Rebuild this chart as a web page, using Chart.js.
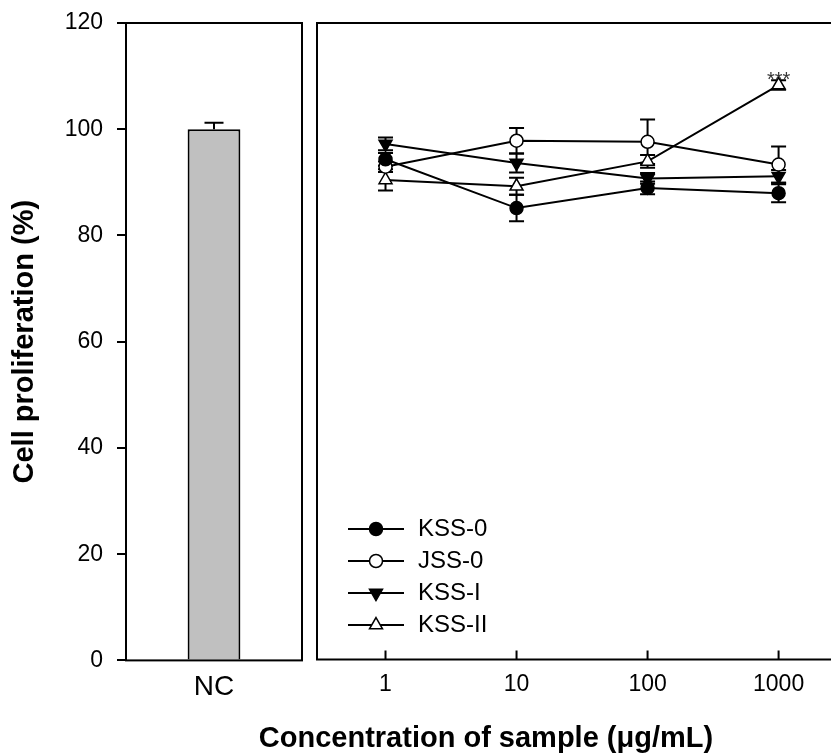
<!DOCTYPE html>
<html>
<head>
<meta charset="utf-8">
<script src="https://cdn.jsdelivr.net/npm/chart.js@4.4.0/dist/chart.umd.min.js"></script>
<style>
  body { margin: 0; background: #fff; overflow: hidden; }
  #wrap { position: relative; width: 831px; height: 753px; }
  canvas { position: absolute; top: 0; left: 0; }
</style>
</head>
<body>
<div id="wrap">
  <canvas id="lineChart" width="831" height="753"></canvas>
  <canvas id="barChart" width="310" height="753"></canvas>
</div>
<script>
const FONT = "'Liberation Sans', Arial, sans-serif";

// negative control bar
const ncLabels = ["NC"];
const ncValues = [100];
const ncErrors = [1.2];

// sample concentrations (ug/mL) and tick labels
const concentrations = [1, 10, 100, 1000];
const xTickLabels = ["1", "10", "100", "1000"];
const yTicks = [0, 20, 40, 60, 80, 100, 120];

// series values (mean, error)
const seriesNames = ["KSS-0", "JSS-0", "KSS-I", "KSS-II"];
const kss0 = [94.3, 85.1, 88.9, 87.9];
const kss0Err = [1.2, 2.5, 1.2, 1.7];
const jss0 = [92.9, 97.8, 97.6, 93.3];
const jss0Err = [1.0, 2.4, 4.2, 3.4];
const kssI = [97.2, 93.6, 90.7, 91.1];
const kssIErr = [1.2, 1.8, 1.0, 1.2];
const kssII = [90.4, 89.2, 93.9, 108.3];
const kssIIErr = [2.0, 1.6, 1.2, 0.9];
const kssIIMarks = ["", "", "", "***"];

const seriesValues = [kss0, jss0, kssI, kssII];
const seriesErrors = [kss0Err, jss0Err, kssIErr, kssIIErr];
const seriesMarks = [null, null, null, kssIIMarks];

// marker styles
const markers = [
  { pointStyle: "circle", rotation: 0, radius: 6.5, fill: "#000" },
  { pointStyle: "circle", rotation: 0, radius: 6.5, fill: "#fff" },
  { pointStyle: "triangle", rotation: 180, radius: 7.5, fill: "#000" },
  { pointStyle: "triangle", rotation: 0, radius: 7.5, fill: "#fff" },
];

function drawErrorBar(ctx, x, yMid, yLo, yHi, cap) {
  ctx.beginPath();
  ctx.moveTo(x, yLo);
  ctx.lineTo(x, yHi);
  ctx.moveTo(x - cap / 2, yHi);
  ctx.lineTo(x + cap / 2, yHi);
  if (yLo !== yMid) {
    ctx.moveTo(x - cap / 2, yLo);
    ctx.lineTo(x + cap / 2, yLo);
  }
  ctx.stroke();
}

// Left panel: NC bar
const barChart = new Chart(document.getElementById("barChart"), {
  type: "bar",
  data: {
    labels: ncLabels,
    datasets: [
      {
        data: ncValues,
        backgroundColor: "#c0c0c0",
        borderColor: "#000",
        borderWidth: 2,
        barPercentage: 0.3,
        categoryPercentage: 1,
      },
    ],
  },
  options: {
    responsive: false,
    animation: false,
    layout: { autoPadding: false, padding: { left: 0, right: 8, top: 23, bottom: 39 } },
    plugins: { legend: { display: false }, tooltip: { enabled: false } },
    scales: {
      x: {
        afterFit: (s) => { s.paddingLeft = 0; s.paddingRight = 0; },
        grid: { display: false, drawTicks: false },
        border: { display: false },
        ticks: { color: "#000", font: { family: FONT, size: 28 }, padding: 10 },
      },
      y: {
        min: 0,
        max: 120,
        afterFit: (s) => { s.width = 126; s.paddingTop = 0; s.paddingBottom = 0; },
        afterBuildTicks: (s) => { s.ticks = yTicks.map((v) => ({ value: v })); },
        grid: { drawOnChartArea: false, color: "#000", lineWidth: 2, tickLength: 9 },
        border: { display: false },
        ticks: { color: "#000", font: { family: FONT, size: 23 }, padding: 14 },
        title: {
          display: true,
          text: "Cell proliferation (%)",
          color: "#000",
          font: { family: FONT, size: 29, weight: "bold" },
          padding: { top: 8, bottom: 0 },
        },
      },
    },
  },
  plugins: [
    {
      id: "ncExtras",
      afterDatasetsDraw(chart) {
        const { ctx, scales } = chart;
        ctx.save();
        ctx.strokeStyle = "#000";
        ctx.lineWidth = 2;
        ncValues.forEach((v, i) => {
          const x = scales.x.getPixelForValue(i);
          const y = scales.y.getPixelForValue(v);
          const yHi = scales.y.getPixelForValue(v + ncErrors[i]);
          drawErrorBar(ctx, x, y, y, yHi, 19);
        });
        ctx.restore();
      },
      afterDraw(chart) {
        const a = chart.chartArea;
        const ctx = chart.ctx;
        ctx.save();
        ctx.strokeStyle = "#000";
        ctx.lineWidth = 2;
        ctx.strokeRect(a.left, a.top, a.right - a.left, a.bottom - a.top);
        ctx.restore();
      },
    },
  ],
});

// Right panel: concentration series
const lineChart = new Chart(document.getElementById("lineChart"), {
  type: "line",
  data: {
    datasets: seriesNames.map((name, i) => ({
      label: name,
      data: concentrations.map((c, j) => ({ x: c, y: seriesValues[i][j] })),
      borderColor: "#000",
      borderWidth: 2,
      tension: 0,
      pointStyle: markers[i].pointStyle,
      rotation: markers[i].rotation,
      pointRadius: markers[i].radius,
      pointBackgroundColor: markers[i].fill,
      pointBorderColor: "#000",
      pointBorderWidth: 1.5,
    })),
  },
  options: {
    responsive: false,
    animation: false,
    layout: { autoPadding: false, padding: { left: 317, right: 0, top: 23, bottom: 44 } },
    plugins: { legend: { display: false }, tooltip: { enabled: false } },
    scales: {
      x: {
        type: "logarithmic",
        min: Math.pow(10, -0.5),
        max: Math.pow(10, 3.4),
        afterBuildTicks: (s) => { s.ticks = concentrations.map((v) => ({ value: v })); },
        afterFit: (s) => { s.paddingLeft = 0; s.paddingRight = 0; },
        grid: { display: false, drawTicks: false },
        border: { display: false },
        ticks: {
          color: "#000",
          font: { family: FONT, size: 23 },
          padding: 11,
          autoSkip: false,
          maxRotation: 0,
          callback: (v, i) => xTickLabels[i],
        },
      },
      y: { display: false, min: 0, max: 120 },
    },
  },
  plugins: [
    {
      id: "seriesExtras",
      beforeDatasetsDraw(chart) {
        const { ctx, scales } = chart;
        ctx.save();
        ctx.strokeStyle = "#000";
        ctx.lineWidth = 2;
        seriesValues.forEach((vals, i) => {
          vals.forEach((v, j) => {
            const x = scales.x.getPixelForValue(concentrations[j]);
            const e = seriesErrors[i][j];
            drawErrorBar(ctx, x, scales.y.getPixelForValue(v),
              scales.y.getPixelForValue(v - e), scales.y.getPixelForValue(v + e), 15);
          });
        });
        ctx.restore();
      },
      afterDraw(chart) {
        const { ctx, scales } = chart;
        const a = chart.chartArea;
        ctx.save();
        ctx.strokeStyle = "#000";
        ctx.fillStyle = "#000";
        ctx.lineWidth = 2;

        // frame: left, top, bottom (right side runs off the page)
        ctx.beginPath();
        ctx.moveTo(a.right + 2, a.top);
        ctx.lineTo(a.left, a.top);
        ctx.lineTo(a.left, a.bottom);
        ctx.lineTo(a.right + 2, a.bottom);
        ctx.stroke();

        // inward tick marks
        ctx.beginPath();
        concentrations.forEach((c) => {
          const x = scales.x.getPixelForValue(c);
          ctx.moveTo(x, a.bottom);
          ctx.lineTo(x, a.bottom - 9);
        });
        ctx.stroke();

        // significance marks
        ctx.font = "20px " + FONT;
        ctx.fillStyle = "#333";
        ctx.textAlign = "center";
        ctx.textBaseline = "alphabetic";
        seriesMarks.forEach((marks, i) => {
          if (!marks) return;
          marks.forEach((m, j) => {
            if (!m) return;
            const x = scales.x.getPixelForValue(concentrations[j]);
            const y = scales.y.getPixelForValue(seriesValues[i][j] + seriesErrors[i][j]);
            ctx.fillText(m, x, y + 6);
          });
        });

        // legend
        ctx.fillStyle = "#000";
        ctx.font = "24px " + FONT;
        ctx.textAlign = "left";
        ctx.textBaseline = "middle";
        seriesNames.forEach((name, i) => {
          const y = 529 + i * 32;
          ctx.beginPath();
          ctx.moveTo(348, y);
          ctx.lineTo(404, y);
          ctx.stroke();
          ctx.save();
          ctx.fillStyle = markers[i].fill;
          ctx.lineWidth = 1.5;
          Chart.helpers.drawPoint(ctx, {
            pointStyle: markers[i].pointStyle,
            rotation: markers[i].rotation,
            radius: markers[i].radius,
            borderWidth: 1.5,
          }, 376, y);
          ctx.restore();
          ctx.fillText(name, 418, y);
        });

        // shared x-axis title
        ctx.font = "bold 29px " + FONT;
        ctx.textAlign = "center";
        ctx.textBaseline = "alphabetic";
        ctx.fillText("Concentration of sample (\u03bcg/mL)", 486, 747);
        ctx.restore();
      },
    },
  ],
});
</script>
</body>
</html>
